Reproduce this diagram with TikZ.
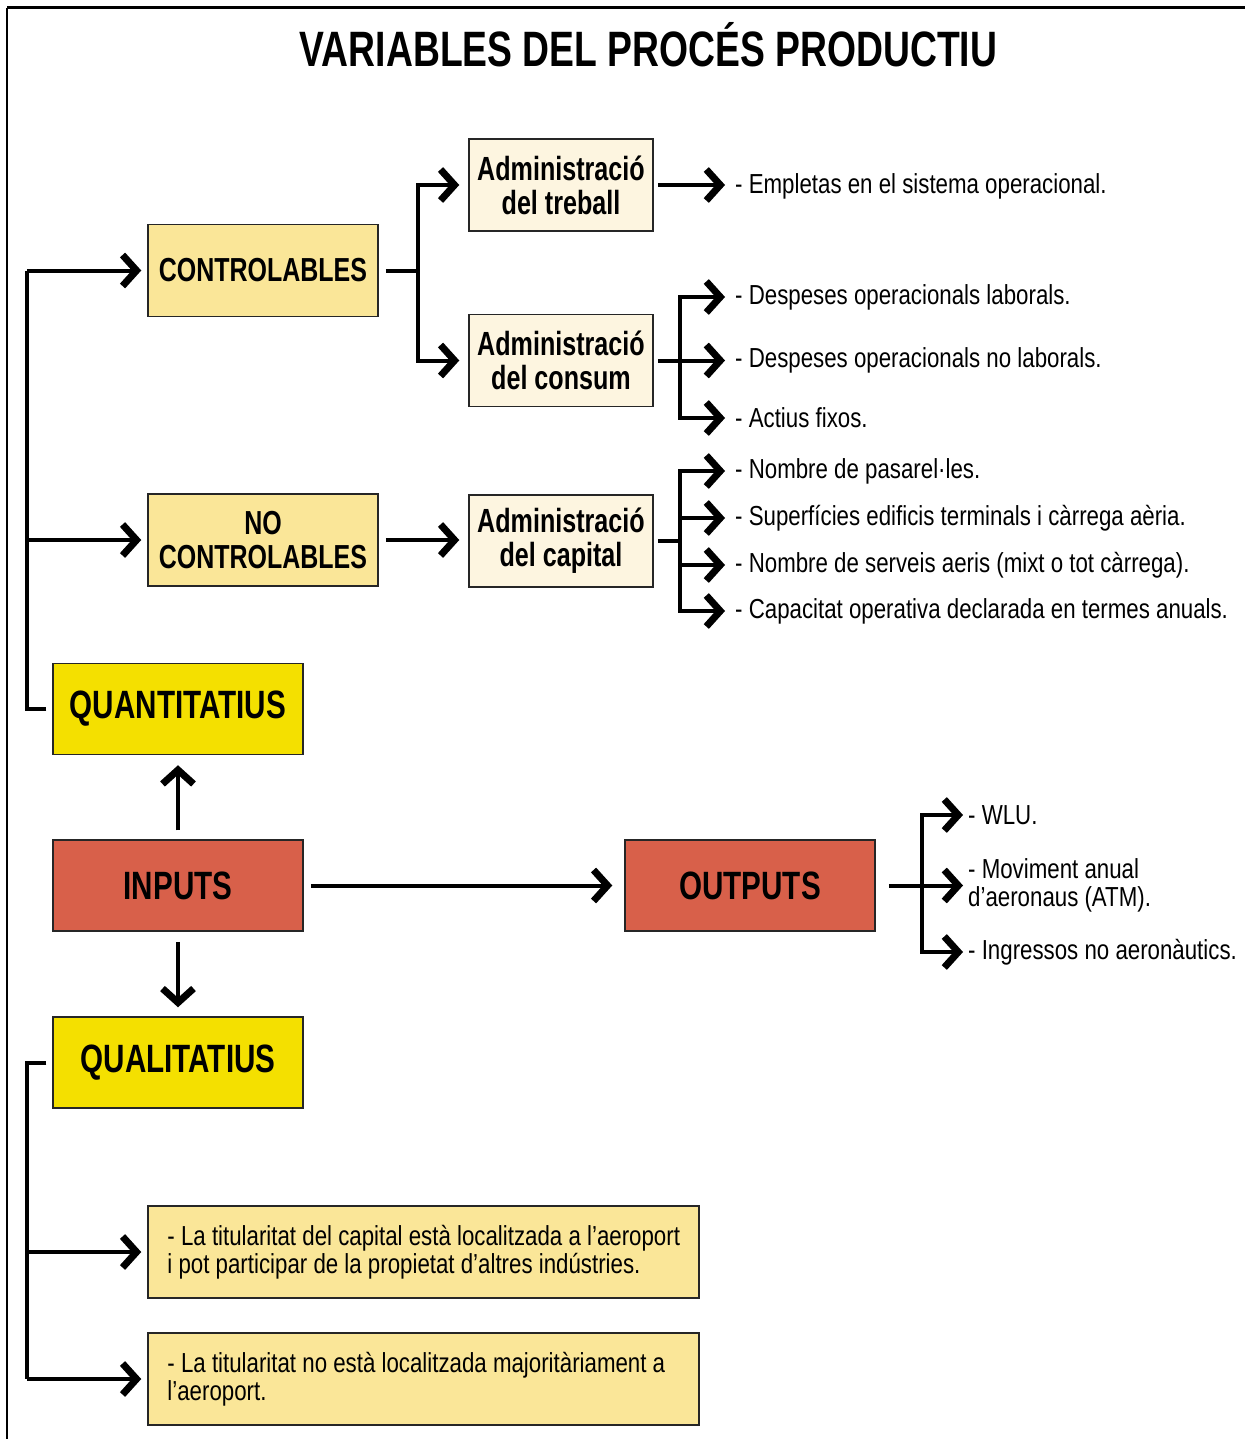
\documentclass[tikz,border=0pt]{standalone}
\usepackage{fontspec}
\setmainfont{Liberation Sans}
\newfontfamily\condfont[FakeStretch=0.81]{Liberation Sans}
\newfontfamily\boldcond[FakeStretch=0.75]{Liberation Sans Bold}
\usetikzlibrary{arrows.meta}

\definecolor{paleyel}{HTML}{FAE698}
\definecolor{cream}{HTML}{FDF5E0}
\definecolor{brightyel}{HTML}{F4E000}
\definecolor{brick}{HTML}{D8604A}

\tikzset{
  box/.style={draw=black!85, line width=1.5pt, rectangle, inner sep=0pt,
              align=center, font=\boldcond\fontsize{33.3}{34}\selectfont},
  admbox/.style={box, fill=cream, minimum width=184pt, minimum height=92pt,
              font=\boldcond\fontsize{33.5}{34}\selectfont},
  varbox/.style={box, fill=paleyel, minimum width=230pt, minimum height=92pt},
  bigbox/.style={box, minimum width=250pt, minimum height=91pt,
              font=\boldcond\fontsize{39.5}{40}\selectfont},
  notebox/.style={draw=black!85, line width=1.5pt, fill=paleyel,
              minimum width=551pt, minimum height=92pt, inner sep=0pt},
  lbl/.style={anchor=west, inner sep=0pt, align=left,
              font=\condfont\fontsize{27.5}{28}\selectfont},
  ln/.style={line width=4pt},
  arr/.style={line width=4pt,
              -{Straight Barb[length=14pt,width=31pt,line width=7pt]}},
}

\begin{document}
\begin{tikzpicture}[x=1pt, y=-1pt]
\useasboundingbox (0,0) rectangle (1245,1439);

% frame
\draw[line width=3pt] (7,8) -- (1245,8);
\draw[line width=2pt] (7,8) -- (7,1439);

% title
\node[anchor=base, inner sep=0pt] (title) at (648.5,67)
  {\boldcond\fontsize{49.7}{50}\selectfont VARIABLES DEL PROCÉS PRODUCTIU};

% main boxes
\node[varbox] (ctrl)   at (263,270.5) {CONTROLABLES};
\node[varbox] (noctrl) at (263,540)   {NO\\CONTROLABLES};
\node[admbox] (treb)   at (561,185)   {Administració\\del treball};
\node[admbox] (cons)   at (561,360.5) {Administració\\del consum};
\node[admbox] (capi)   at (561,541)   {Administració\\del capital};
\node[bigbox, fill=brightyel] (quant) at (178,709)    {QUANTITATIUS};
\node[bigbox, fill=brick]     (inp)   at (178,885.5)  {INPUTS};
\node[bigbox, fill=brick]     (outp)  at (750,885.5)  {OUTPUTS};
\node[bigbox, fill=brightyel] (qual)  at (178,1062.5) {QUALITATIUS};
\node[notebox] (b1) at (423.5,1252) {};
\node[notebox] (b2) at (423.5,1379) {};
\node[lbl] (b1t) at ([xshift=20pt]b1.west)
  {- La titularitat del capital està localitzada a l’aeroport\\i pot participar de la propietat d’altres indústries.};
\node[lbl] (b2t) at ([xshift=20pt]b2.west)
  {- La titularitat no està localitzada majoritàriament a\\l’aeroport.};

% item labels
\node[lbl] (t1) at (735,186) {- Empletas en el sistema operacional.};
\node[lbl] (c1) at (735,297) {- Despeses operacionals laborals.};
\node[lbl] (c2) at (735,360.5) {- Despeses operacionals no laborals.};
\node[lbl] (c3) at (735,418) {- Actius fixos.};
\node[lbl] (k1) at (735,471) {- Nombre de pasarel·les.};
\node[lbl] (k2) at (735,518) {- Superfícies edificis terminals i càrrega aèria.};
\node[lbl] (k3) at (735,565) {- Nombre de serveis aeris (mixt o tot càrrega).};
\node[lbl] (k4) at (735,611) {- Capacitat operativa declarada en termes anuals.};
\node[lbl] (o1) at (968,815) {- WLU.};
\node[lbl] (o2) at (968,885.5) {- Moviment anual\\d’aeronaus (ATM).};
\node[lbl] (o3) at (968,952) {- Ingressos no aeronàutics.};

% branch points
\coordinate (tq) at (27,270.5);
\coordinate (ta) at (418,269);
\coordinate (tc) at (680,360);
\coordinate (to) at (922,885.5);

% quantitative trunk
\draw[ln] ([xshift=-6pt]quant.west) -- (quant.west -| tq) -- (tq);
\draw[arr, shorten >=6pt] (tq) -- (ctrl.west);
\draw[arr, shorten >=6pt] (noctrl.west -| tq) -- (noctrl.west);

% controllable branch
\draw[ln] ([xshift=7pt]ctrl.east) -- (ctrl.east -| ta);
\draw[arr, shorten >=9pt] (ta |- cons.west) -- (ta |- treb.west) -- (treb.west);
\draw[arr, shorten >=9pt] (ta |- treb.west) -- (ta |- cons.west) -- (cons.west);
\draw[arr, shorten >=10pt] ([xshift=4pt]treb.east) -- (treb.east -| t1.west);

% consumption branch
\draw[arr, shorten >=10pt] (tc |- c3.west) -- (tc |- c1.west) -- (c1.west);
\draw[arr, shorten >=10pt] (tc |- c1.west) -- (tc |- c3.west) -- (c3.west);
\draw[arr, shorten >=10pt] ([xshift=4pt]cons.east) -- (c2.west);

% non-controllable branch
\draw[arr, shorten >=9pt] ([xshift=7pt]noctrl.east) -- (noctrl.east -| capi.west);
\draw[ln] ([xshift=4pt]capi.east) -- (capi.east -| tc);
\draw[arr, shorten >=10pt] (tc |- k4.west) -- (tc |- k1.west) -- (k1.west);
\draw[arr, shorten >=10pt] (tc |- k2.west) -- (k2.west);
\draw[arr, shorten >=10pt] (tc |- k3.west) -- (k3.west);
\draw[arr, shorten >=10pt] (tc |- k1.west) -- (tc |- k4.west) -- (k4.west);

% inputs
\draw[arr, shorten >=10pt] ([yshift=9pt]inp.north) -- (quant.south);
\draw[arr, shorten >=9pt] ([yshift=-10pt]inp.south) -- (qual.north);
\draw[arr, shorten >=12pt] ([xshift=7pt]inp.east) -- (outp.west);

% outputs branch
\draw[arr, shorten >=5pt] (to |- o3.west) -- (to |- o1.west) -- (o1.west);
\draw[arr, shorten >=5pt] ([xshift=13pt]outp.east) -- (o2.west);
\draw[arr, shorten >=5pt] (to |- o1.west) -- (to |- o3.west) -- (o3.west);

% qualitative trunk
\draw[ln] ([xshift=-6pt]qual.west) -- (qual.west -| tq) -- (tq |- b2.west);
\draw[arr, shorten >=6pt] (tq |- b1.west) -- (b1.west);
\draw[arr, shorten >=6pt] (tq |- b2.west) -- (b2.west);
\end{tikzpicture}
\end{document}
